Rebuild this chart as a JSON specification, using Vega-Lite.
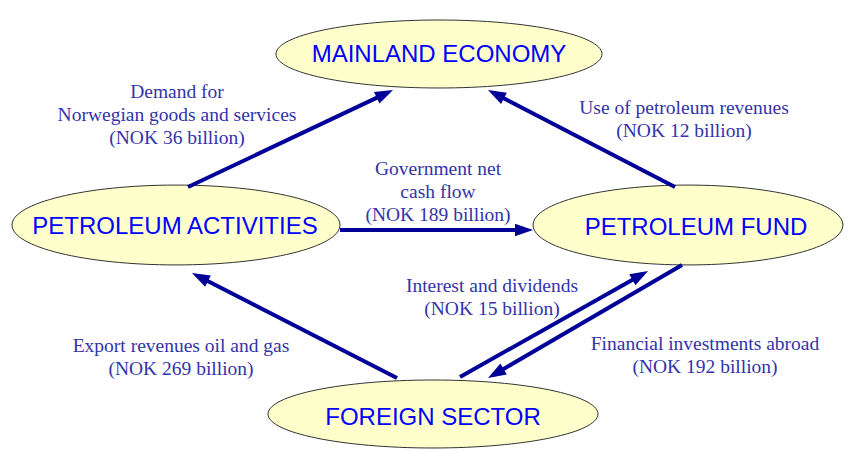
{
  "$schema": "https://vega.github.io/schema/vega-lite/v6.json",
  "width": 848,
  "height": 450,
  "padding": 0,
  "autosize": {"type": "fit", "contains": "padding"},
  "background": "#ffffff",
  "config": {"view": {"stroke": null}},
  "datasets": {
    "nodes": [
      {"node": "MAINLAND ECONOMY", "x": 439, "y": 54, "tx": 439, "ty": 62},
      {"node": "PETROLEUM ACTIVITIES", "x": 176, "y": 225, "tx": 175, "ty": 234},
      {"node": "PETROLEUM FUND", "x": 688, "y": 225, "tx": 696, "ty": 235},
      {"node": "FOREIGN SECTOR", "x": 433, "y": 414, "tx": 433, "ty": 425}
    ],
    "flows": [
      {"flow": "Demand for Norwegian goods and services", "x": 188, "y": 187, "x2": 387.6, "y2": 92.6},
      {"flow": "Use of petroleum revenues", "x": 675, "y": 187, "x2": 493.3, "y2": 92.8},
      {"flow": "Government net cash flow", "x": 340, "y": 230, "x2": 527, "y2": 230},
      {"flow": "Export revenues oil and gas", "x": 397, "y": 378, "x2": 197.3, "y2": 275.7},
      {"flow": "Interest and dividends", "x": 460, "y": 377, "x2": 642.8, "y2": 273.9},
      {"flow": "Financial investments abroad", "x": 682, "y": 265, "x2": 493.2, "y2": 375}
    ],
    "labels": [
      {"text": "Demand for\nNorwegian goods and services\n(NOK 36 billion)", "x": 177, "y": 98},
      {"text": "Use of petroleum revenues\n(NOK 12 billion)", "x": 684, "y": 114},
      {"text": "Government net\ncash flow\n(NOK 189 billion)", "x": 438, "y": 175},
      {"text": "Interest and dividends\n(NOK 15 billion)", "x": 492, "y": 292},
      {"text": "Export revenues oil and gas\n(NOK 269 billion)", "x": 181, "y": 352},
      {"text": "Financial investments abroad\n(NOK 192 billion)", "x": 705, "y": 350}
    ]
  },
  "layer": [
    {
      "data": {"name": "nodes"},
      "mark": {"type": "point", "filled": true, "fill": "#FFFFCC", "stroke": "#333333", "strokeWidth": 1, "opacity": 1, "fillOpacity": 1, "strokeOpacity": 1, "size": 108900},
      "encoding": {
        "x": {"field": "x", "type": "quantitative", "scale": {"domain": [0, 848], "nice": false, "zero": false}, "axis": null},
        "y": {"field": "y", "type": "quantitative", "scale": {"domain": [0, 450], "nice": false, "zero": false, "reverse": true}, "axis": null},
        "shape": {
          "field": "node", "type": "nominal", "legend": null,
          "scale": {
            "domain": ["MAINLAND ECONOMY", "PETROLEUM ACTIVITIES", "PETROLEUM FUND", "FOREIGN SECTOR"],
            "range": [
              "M-0.988,0C-0.988,-0.1138,-0.5457,-0.206,0,-0.206C0.5457,-0.206,0.988,-0.1138,0.988,0C0.988,0.1138,0.5457,0.206,0,0.206C-0.5457,0.206,-0.988,0.1138,-0.988,0Z",
              "M-0.994,0C-0.994,-0.1337,-0.549,-0.242,0,-0.242C0.549,-0.242,0.994,-0.1337,0.994,0C0.994,0.1337,0.549,0.242,0,0.242C-0.549,0.242,-0.994,0.1337,-0.994,0Z",
              "M-0.939,0C-0.939,-0.1337,-0.5186,-0.242,0,-0.242C0.5186,-0.242,0.939,-0.1337,0.939,0C0.939,0.1337,0.5186,0.242,0,0.242C-0.5186,0.242,-0.939,0.1337,-0.939,0Z",
              "M-1,0C-1,-0.1138,-0.5523,-0.206,0,-0.206C0.5523,-0.206,1,-0.1138,1,0C1,0.1138,0.5523,0.206,0,0.206C-0.5523,0.206,-1,0.1138,-1,0Z"
            ]
          }
        }
      }
    },
    {
      "data": {"name": "nodes"},
      "mark": {"type": "text", "font": "Liberation Sans", "fontSize": 24, "fill": "#0000FF", "align": "center", "baseline": "alphabetic"},
      "encoding": {
        "x": {"field": "tx", "type": "quantitative", "scale": {"domain": [0, 848], "nice": false, "zero": false}, "axis": null},
        "y": {"field": "ty", "type": "quantitative", "scale": {"domain": [0, 450], "nice": false, "zero": false, "reverse": true}, "axis": null},
        "text": {"field": "node", "type": "nominal"}
      }
    },
    {
      "data": {"name": "flows"},
      "mark": {"type": "rule", "color": "#000099", "strokeWidth": 4, "strokeCap": "butt"},
      "encoding": {
        "x": {"field": "x", "type": "quantitative", "scale": {"domain": [0, 848], "nice": false, "zero": false}, "axis": null},
        "y": {"field": "y", "type": "quantitative", "scale": {"domain": [0, 450], "nice": false, "zero": false, "reverse": true}, "axis": null},
        "x2": {"field": "x2"},
        "y2": {"field": "y2"}
      }
    },
    {
      "data": {"name": "flows"},
      "transform": [
        {"calculate": "atan2(datum.x2 - datum.x, -(datum.y2 - datum.y)) * 180 / PI", "as": "angle"}
      ],
      "mark": {"type": "point", "filled": true, "fill": "#000099", "opacity": 1, "strokeWidth": 0, "size": 900, "shape": "M0,-0.4L-0.42,0.8L0.42,0.8Z"},
      "encoding": {
        "x": {"field": "x2", "type": "quantitative", "scale": {"domain": [0, 848], "nice": false, "zero": false}, "axis": null},
        "y": {"field": "y2", "type": "quantitative", "scale": {"domain": [0, 450], "nice": false, "zero": false, "reverse": true}, "axis": null},
        "angle": {"field": "angle", "type": "quantitative", "scale": null}
      }
    },
    {
      "data": {"name": "labels"},
      "mark": {"type": "text", "font": "Liberation Serif", "fontSize": 19.5, "lineHeight": 23, "lineBreak": "\n", "fill": "#3333AA", "align": "center", "baseline": "alphabetic"},
      "encoding": {
        "x": {"field": "x", "type": "quantitative", "scale": {"domain": [0, 848], "nice": false, "zero": false}, "axis": null},
        "y": {"field": "y", "type": "quantitative", "scale": {"domain": [0, 450], "nice": false, "zero": false, "reverse": true}, "axis": null},
        "text": {"field": "text", "type": "nominal"}
      }
    }
  ]
}
